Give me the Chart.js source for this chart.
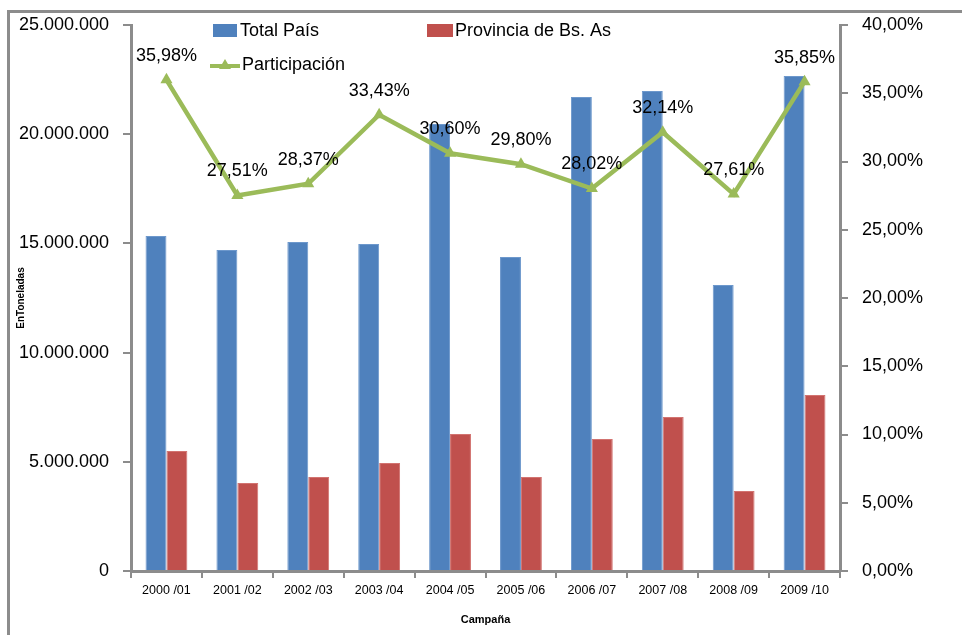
<!DOCTYPE html>
<html>
<head>
<meta charset="utf-8">
<script src="https://cdn.jsdelivr.net/npm/chart.js@4"></script>
<style>
  html, body { margin: 0; padding: 0; background: #fff; }
  #wrap { position: relative; width: 962px; height: 635px; overflow: hidden; }
  #frame { position: absolute; left: 7px; top: 10px; width: 2000px; height: 2000px;
           border-left: 3px solid #8c8c8c; border-top: 3px solid #8c8c8c; }
  canvas { position: absolute; left: 0; top: 0; }
</style>
</head>
<body>
<div id="wrap">
  <div id="frame"></div>
  <canvas id="barChart" width="962" height="635"></canvas>
</div>
<script>
// Data
const campanas = ['2000 /01', '2001 /02', '2002 /03', '2003 /04', '2004 /05',
                  '2005 /06', '2006 /07', '2007 /08', '2008 /09', '2009 /10'];
const totalPais = [15340000, 14700000, 15060000, 14970000, 20470000,
                   14380000, 21700000, 21980000, 13100000, 22660000];
const provinciaBsAs = [5490000, 4030000, 4300000, 4950000, 6270000,
                       4300000, 6040000, 7050000, 3660000, 8060000];
const participacion = [35.98, 27.51, 28.37, 33.43, 30.60, 29.80, 28.02, 32.14, 27.61, 35.85];

const gray = '#8c8c8c';
const fontFam = '"Liberation Sans", Arial, sans-serif';

function fmtPct(v) {
    return v.toFixed(2).replace('.', ',') + '%';
}

// value labels over the line points
const lineLabels = {
    id: 'lineLabels',
    afterDatasetsDraw(chart) {
        const ctx = chart.ctx;
        const meta = chart.getDatasetMeta(2);
        ctx.save();
        ctx.font = '18px ' + fontFam;
        ctx.fillStyle = '#000';
        ctx.textAlign = 'center';
        ctx.textBaseline = 'middle';
        meta.data.forEach(function(pt, i) {
            ctx.fillText(fmtPct(participacion[i]), pt.x, pt.y - 24);
        });
        ctx.restore();
    }
};

// legend drawn inside the plot like the original
const innerLegend = {
    id: 'innerLegend',
    afterDraw(chart) {
        const ctx = chart.ctx;
        ctx.save();
        ctx.font = '18px ' + fontFam;
        ctx.textBaseline = 'middle';
        ctx.textAlign = 'left';

        ctx.fillStyle = '#4F81BD';
        ctx.fillRect(213, 24, 24, 13);
        ctx.fillStyle = '#000';
        ctx.fillText('Total País', 240, 31);

        ctx.fillStyle = '#C0504D';
        ctx.fillRect(427, 24, 26, 13);
        ctx.fillStyle = '#000';
        ctx.fillText('Provincia de Bs. As', 455, 31);

        ctx.strokeStyle = '#9BBB59';
        ctx.lineWidth = 4;
        ctx.beginPath();
        ctx.moveTo(210, 66);
        ctx.lineTo(240, 66);
        ctx.stroke();
        ctx.fillStyle = '#9BBB59';
        ctx.beginPath();
        ctx.moveTo(225, 59);
        ctx.lineTo(231, 69);
        ctx.lineTo(219, 69);
        ctx.closePath();
        ctx.fill();
        ctx.fillStyle = '#000';
        ctx.fillText('Participación', 242, 65);
        ctx.restore();
    }
};

document.addEventListener('DOMContentLoaded', function() {
    const ctx = document.getElementById('barChart').getContext('2d');
    new Chart(ctx, {
        type: 'bar',
        data: {
            labels: campanas,
            datasets: [{
                label: 'Total País',
                data: totalPais,
                backgroundColor: '#4F81BD',
                borderColor: '#6d98cc',
                borderWidth: 1,
                yAxisID: 'y',
                order: 1
            }, {
                label: 'Provincia de Bs. As',
                data: provinciaBsAs,
                backgroundColor: '#C0504D',
                borderColor: '#d27370',
                borderWidth: 1,
                yAxisID: 'y',
                order: 1
            }, {
                type: 'line',
                label: 'Participación',
                data: participacion,
                borderColor: '#9BBB59',
                backgroundColor: '#9BBB59',
                borderWidth: 4.5,
                pointStyle: 'triangle',
                pointRadius: 7,
                pointBorderWidth: 0,
                tension: 0,
                yAxisID: 'y1',
                order: 0
            }]
        },
        options: {
            responsive: false,
            animation: false,
            events: [],
            layout: { padding: { top: 25, left: 0, right: 0, bottom: 0 } },
            datasets: {
                bar: { barPercentage: 1, categoryPercentage: 0.59 }
            },
            plugins: {
                legend: { display: false },
                tooltip: { enabled: false }
            },
            scales: {
                x: {
                    grid: { display: true, drawOnChartArea: false, color: gray, lineWidth: 2, tickLength: 7 },
                    border: { color: gray, width: 3 },
                    ticks: { color: '#000', padding: 5, font: { family: fontFam, size: 12.5 }, maxRotation: 0 },
                    title: {
                        display: true, text: 'Campaña', color: '#000',
                        font: { family: fontFam, size: 11, weight: 'bold' },
                        padding: { top: 0, bottom: 8 }
                    },
                    afterFit(scale) { scale.height = 64; }
                },
                y: {
                    position: 'left',
                    min: 0, max: 25000000,
                    grid: { display: true, drawOnChartArea: false, color: gray, lineWidth: 2, tickLength: 8 },
                    border: { color: gray, width: 3 },
                    ticks: {
                        stepSize: 5000000, color: '#000', padding: 14,
                        font: { family: fontFam, size: 18 },
                        callback: function(v) { return v.toLocaleString('de-DE'); }
                    },
                    title: {
                        display: true, text: 'EnToneladas', color: '#000',
                        font: { family: fontFam, size: 10, weight: 'bold' },
                        padding: { top: 15, bottom: 0 }
                    },
                    afterFit(scale) { scale.width = 131; }
                },
                y1: {
                    position: 'right',
                    min: 0, max: 40,
                    grid: { display: true, drawOnChartArea: false, color: gray, lineWidth: 2, tickLength: 8 },
                    border: { color: gray, width: 3 },
                    ticks: {
                        stepSize: 5, color: '#000', padding: 14,
                        font: { family: fontFam, size: 18 },
                        callback: function(v) { return fmtPct(v); }
                    },
                    afterFit(scale) { scale.width = 122; }
                }
            }
        },
        plugins: [lineLabels, innerLegend]
    });
});
</script>
</body>
</html>
